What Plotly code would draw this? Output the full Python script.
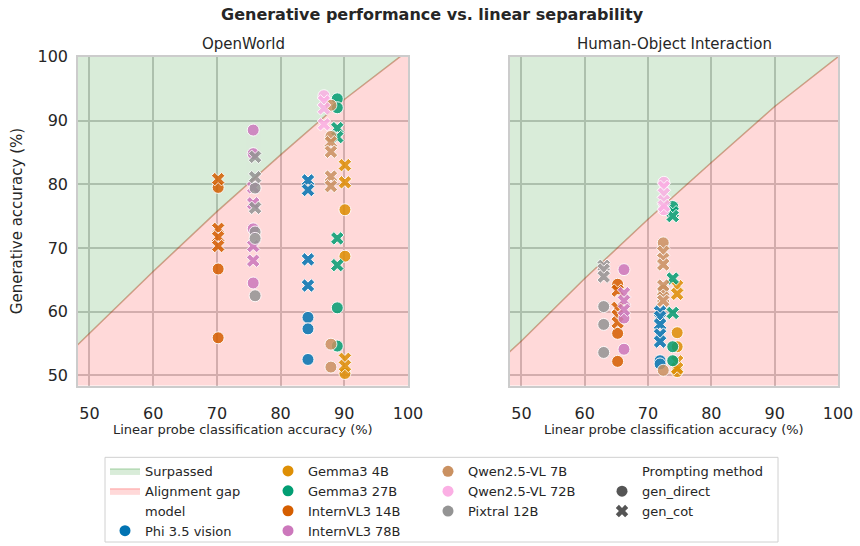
import plotly.graph_objects as go

# ---- data -------------------------------------------------------------
MODELS = ["Phi 3.5 vision", "Gemma3 4B", "Gemma3 27B", "InternVL3 14B",
          "InternVL3 78B", "Qwen2.5-VL 7B", "Qwen2.5-VL 72B", "Pixtral 12B"]
COLORS = ["#0173b2", "#de8f05", "#029e73", "#d55e00",
          "#cc78bc", "#ca9161", "#fbafe4", "#949494"]

# linear probe accuracy per model (x) for each dataset
ow_probe = [84.3, 90.1, 88.9, 70.2, 75.7, 87.9, 86.8, 76.0]
hoi_probe = [71.9, 74.6, 73.9, 65.2, 66.2, 72.4, 72.5, 63.0]

# generative accuracy, OpenWorld
ow_direct = [
    [59.1, 57.3, 52.5],
    [76.0, 68.7, 50.3],
    [93.4, 92.0, 60.6, 54.6],
    [79.5, 66.7, 55.9],
    [88.5, 84.8, 73.0, 64.5],
    [92.4, 87.5, 54.9, 51.3],
    [93.9],
    [79.4, 72.5, 71.5, 62.5],
]
ow_cot = [
    [80.6, 79.1, 68.2, 64.1],
    [83.0, 80.3, 52.6, 51.5],
    [88.8, 87.4, 71.5, 67.3],
    [80.8, 73.0, 71.7, 70.3],
    [79.5, 77.0, 70.3, 68.0],
    [86.6, 85.1, 81.2, 79.7],
    [93.0, 91.9, 89.4],
    [84.3, 81.1, 76.3],
]

# generative accuracy, Human-Object Interaction
hoi_direct = [
    [52.3, 51.8],
    [56.7, 54.5, 50.6],
    [76.5, 54.5, 52.3],
    [64.3, 56.6, 52.2],
    [66.6, 59.0, 54.1],
    [70.8, 63.4, 50.8],
    [80.3, 76.0],
    [60.8, 58.0, 53.6],
]
hoi_cot = [
    [60.0, 59.2, 58.0, 56.4, 55.3],
    [64.0, 62.8, 52.2, 51.1],
    [75.6, 75.0, 65.2, 59.8],
    [63.3, 60.6, 59.4, 58.3],
    [62.9, 61.7, 60.3],
    [69.4, 68.3, 67.4, 64.1, 62.2, 61.7],
    [79.6, 78.5, 77.4, 76.6],
    [67.2, 66.6, 65.5],
]

# boundary between "Surpassed" and "Alignment gap" regions
bound_x = [46, 50, 60, 70, 80, 90, 100, 102]
ow_bound_y = [52.7, 56.6, 66.3, 75.7, 84.6, 93.3, 101.0, 102.5]
hoi_bound_y = [51.7, 55.4, 65.2, 74.5, 83.4, 92.2, 100.0, 101.5]

X_TICKS = [50, 60, 70, 80, 90, 100]
Y_TICKS = [50, 60, 70, 80, 90, 100]
X_RANGE = [48.2, 100.0]
Y_RANGE = [48.4, 100.0]

# ---- styling ----------------------------------------------------------
W, H = 860, 546
FONT = "DejaVu Sans"
TXT = "#262626"
GREEN_FILL = "rgba(0,128,0,0.15)"
RED_FILL = "rgba(255,0,0,0.15)"
PANELS = [  # (x-axis id, y-axis id, left px, right px)
    ("x", "y", 78, 408),
    ("x2", "y2", 510, 838),
]
TOP, BOTTOM = 57, 387

fig = go.Figure()


def add_regions(xa, ya, by, show):
    lo, hi = Y_RANGE[0] - 20, Y_RANGE[1] + 20
    fig.add_trace(go.Scatter(
        x=bound_x + [bound_x[-1], bound_x[0]], y=by + [hi, hi],
        fill="toself", fillcolor=GREEN_FILL, mode="lines",
        line=dict(color="rgba(0,128,0,0.22)", width=1.5),
        name="Surpassed", showlegend=show, legend="legend",
        legendgroup="g1", xaxis=xa, yaxis=ya, hoverinfo="skip"))
    fig.add_trace(go.Scatter(
        x=bound_x + [bound_x[-1], bound_x[0]], y=by + [lo, lo],
        fill="toself", fillcolor=RED_FILL, mode="lines",
        line=dict(color="rgba(255,0,0,0.22)", width=1.5),
        name="Alignment gap", showlegend=show, legend="legend",
        legendgroup="g2", xaxis=xa, yaxis=ya, hoverinfo="skip"))


def add_points(xa, ya, probe, direct, cot):
    for i, name in enumerate(MODELS):
        for ys, sym in ((direct[i], "circle"), (cot[i], "x")):
            fig.add_trace(go.Scatter(
                x=[probe[i]] * len(ys), y=ys, mode="markers",
                marker=dict(symbol=sym, size=12, color=COLORS[i],
                            line=dict(color="white", width=1)),
                opacity=0.85, name=name, showlegend=False,
                xaxis=xa, yaxis=ya))


add_regions("x", "y", ow_bound_y, True)
add_regions("x2", "y2", hoi_bound_y, False)
add_points("x", "y", ow_probe, ow_direct, ow_cot)
add_points("x2", "y2", hoi_probe, hoi_direct, hoi_cot)

# ---- legend entries (four columns) ------------------------------------
def legend_entry(name, legend, group, color="rgba(0,0,0,0)", symbol="circle"):
    fig.add_trace(go.Scatter(
        x=[None], y=[None], mode="markers", name=name,
        marker=dict(symbol=symbol, size=11, color=color),
        legend=legend, legendgroup=group, showlegend=True))


legend_entry("model", "legend", "g3")
legend_entry(MODELS[0], "legend", "g4", COLORS[0])
for k, i in enumerate([1, 2, 3, 4]):
    legend_entry(MODELS[i], "legend2", f"h{k}", COLORS[i])
for k, i in enumerate([5, 6, 7]):
    legend_entry(MODELS[i], "legend3", f"q{k}", COLORS[i])
legend_entry("Prompting method", "legend4", "p0")
legend_entry("gen_direct", "legend4", "p1", "#555555", "circle")
legend_entry("gen_cot", "legend4", "p2", "#555555", "x")

LEG_TOP = 1 - 458 / H
leg_common = dict(
    orientation="v", yanchor="top", y=LEG_TOP, xanchor="left",
    bgcolor="rgba(0,0,0,0)", borderwidth=0, tracegroupgap=2,
    font=dict(family=FONT, size=13, color=TXT), traceorder="normal",
)
legend_x = {"legend": 105, "legend2": 268, "legend3": 428, "legend4": 602}

# ---- axes ---------------------------------------------------------------
ax_common = dict(
    showgrid=True, gridcolor="#cccccc", gridwidth=1.5,
    showline=True, linecolor="#cccccc", linewidth=1.5, mirror=True,
    zeroline=False, ticks="", tickfont=dict(family=FONT, size=16, color=TXT),
    automargin=False,
)

layout = dict(
    width=W, height=H, margin=dict(l=0, r=0, t=0, b=0),
    plot_bgcolor="white", paper_bgcolor="white",
    font=dict(family=FONT, color=TXT),
    xaxis=dict(ax_common, domain=[78 / W, 408 / W], range=X_RANGE,
               tickvals=X_TICKS, anchor="y", ticklabelstandoff=12),
    xaxis2=dict(ax_common, domain=[510 / W, 838 / W], range=X_RANGE,
                tickvals=X_TICKS, anchor="y2", ticklabelstandoff=12),
    yaxis=dict(ax_common, domain=[1 - BOTTOM / H, 1 - TOP / H], range=Y_RANGE,
               tickvals=Y_TICKS, anchor="x", ticklabelstandoff=5),
    yaxis2=dict(ax_common, domain=[1 - BOTTOM / H, 1 - TOP / H], range=Y_RANGE,
                tickvals=Y_TICKS, anchor="x2", matches="y",
                showticklabels=False),
    showlegend=True,
)
for key, px in legend_x.items():
    layout[key] = dict(leg_common, x=px / W)
fig.update_layout(**layout)

# ---- titles and box ------------------------------------------------------
def label(text, px_x, px_y, size, angle=0):
    fig.add_annotation(text=text, x=px_x / W, y=1 - px_y / H,
                       xref="paper", yref="paper", xanchor="center",
                       yanchor="middle", showarrow=False, textangle=angle,
                       font=dict(family=FONT, size=size, color=TXT))


label("<b>Generative performance vs. linear separability</b>", 433, 15, 16)
for (xa, ya, l, r), title in zip(PANELS, ["OpenWorld", "Human-Object Interaction"]):
    label(title, (l + r) / 2, 44, 15)
    label("Linear probe classification accuracy (%)", (l + r) / 2, 431, 13)
label("Generative accuracy (%)", 17, 222, 15, angle=-90)

fig.add_shape(type="rect", xref="paper", yref="paper",
              x0=105 / W, x1=778 / W, y0=1 - 544 / H, y1=1 - 459 / H,
              line=dict(color="#d0d0d0", width=1), fillcolor="rgba(0,0,0,0)")

fig.write_html("out.html")
